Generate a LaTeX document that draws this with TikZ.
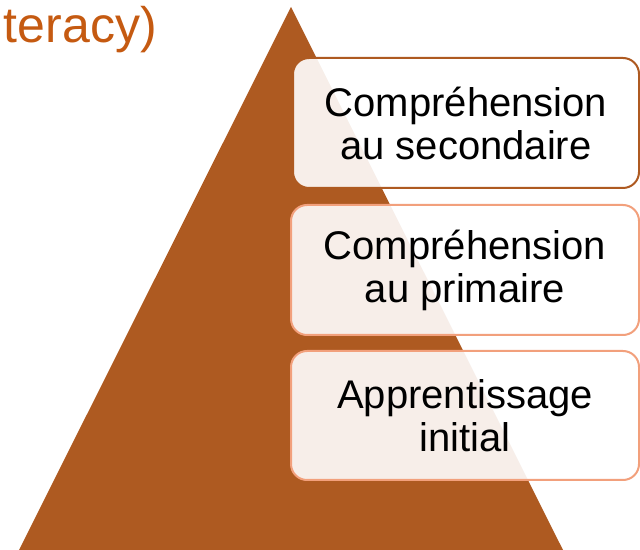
\documentclass[tikz,border=0pt]{standalone}
\usepackage{fontspec}
\setmainfont{Liberation Sans}
\definecolor{pyrbrown}{HTML}{AE5A21}
\definecolor{titleorange}{HTML}{C55A11}
\definecolor{salmon}{HTML}{F2A07C}
\begin{document}
\begin{tikzpicture}[x=1pt,y=1pt,
  tier/.style={draw, line width=2pt, rounded corners=16pt, fill=white, fill opacity=0.9, text opacity=1,
    minimum width=346pt, minimum height=130pt, inner sep=0pt, align=center,
    font=\fontsize{40}{43}\selectfont, text=black}]
\useasboundingbox (0,0) rectangle (640,549);
\clip (0,0) rectangle (640,549);
\node[anchor=base east, text=titleorange, font=\fontsize{50}{54}\selectfont, inner sep=0pt] (title) at (157,506) {teracy)};
\coordinate (apex) at (291,542);
\coordinate (bl) at (19,-1);
\coordinate (br) at (563,-1);
\fill[pyrbrown] (apex) -- (br) -- (bl) -- cycle;
\node[tier, draw=pyrbrown, minimum width=346pt] (t1) at (466,426) {Compréhension\\au secondaire};
\node[tier, draw=salmon, minimum width=348pt] (t2) at (465,279) {Compréhension\\au primaire};
\node[tier, draw=salmon, minimum width=348pt, minimum height=129pt] (t3) at (465,133.5) {Apprentissage\\initial};
\end{tikzpicture}
\end{document}
